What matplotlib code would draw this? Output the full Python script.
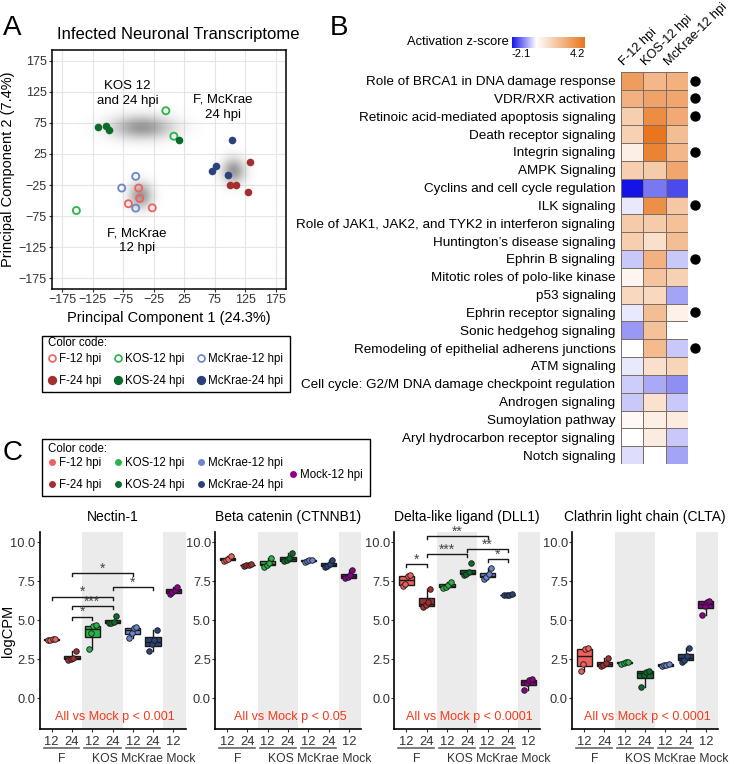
import numpy as np
import matplotlib
matplotlib.use('Agg')
import matplotlib.pyplot as plt
import matplotlib.transforms as mtransforms
from matplotlib.colors import LinearSegmentedColormap, Normalize
from matplotlib.cm import ScalarMappable
from matplotlib.lines import Line2D
from matplotlib.patches import Rectangle

plt.rcParams['font.family'] = ['Liberation Sans', 'DejaVu Sans']

################ data #################
groups = ['F-12 hpi', 'F-24 hpi', 'KOS-12 hpi', 'KOS-24 hpi',
          'McKrae-12 hpi', 'McKrae-24 hpi', 'Mock-12 hpi']
colors = {'F-12 hpi': '#F0605D', 'F-24 hpi': '#A3302E',
          'KOS-12 hpi': '#27B548', 'KOS-24 hpi': '#0B6B2A',
          'McKrae-12 hpi': '#6A87CC', 'McKrae-24 hpi': '#2B437A',
          'Mock-12 hpi': '#8B008B'}

# panel A - PCA scores
pc1 = [-49.5, -47.8, -66.3, -27.2,
       -4.9, 8.2, -151.6,
       -54.3, -77.2, -54.3,
       133.7, 99.5, 110.4, 129.4,
       -116.8, -102.7, -98.4, 16.8,
       102.7, 77.8, 70.0, 97.4]
pc2 = [-29.8, -46.5, -55.0, -61.6,
       94.4, 53.5, -65.9,
       -11.0, -29.8, -62.0,
       12.0, -24.5, -25.5, -36.8,
       68.5, 69.6, 63.0, 47.0,
       48.0, 5.2, -1.9, -9.4]
pca_group = (['F-12 hpi'] * 4 + ['KOS-12 hpi'] * 3 + ['McKrae-12 hpi'] * 3 +
             ['F-24 hpi'] * 4 + ['KOS-24 hpi'] * 4 + ['McKrae-24 hpi'] * 4)
cluster_names = ['KOS 12\nand 24 hpi', 'F, McKrae\n12 hpi', 'F, McKrae\n24 hpi']
cluster_x = [-45, -47, 105]
cluster_y = [68, -42, -2]
cluster_label_x = [-68, -52, 88]
cluster_label_y = [122, -114, 100]

# panel B - IPA activation z-scores
pathways = ['Role of BRCA1 in DNA damage response', 'VDR/RXR activation',
            'Retinoic acid-mediated apoptosis signaling', 'Death receptor signaling',
            'Integrin signaling', 'AMPK Signaling', 'Cyclins and cell cycle regulation',
            'ILK signaling', 'Role of JAK1, JAK2, and TYK2 in interferon signaling',
            'Huntington\u2019s disease signaling', 'Ephrin B signaling',
            'Mitotic roles of polo-like kinase', 'p53 signaling',
            'Ephrin receptor signaling', 'Sonic hedgehog signaling',
            'Remodeling of epithelial adherens junctions', 'ATM signaling',
            'Cell cycle: G2/M DNA damage checkpoint regulation', 'Androgen signaling',
            'Sumoylation pathway', 'Aryl hydrocarbon receptor signaling', 'Notch signaling']
heat_cols = ['F-12 hpi', 'KOS-12 hpi', 'McKrae-12 hpi']
z_f12 = [3.0, 2.4, 1.5, 1.4, 0.5, 1.5, -2.1, -0.2, 1.6, 1.5, -0.5,
         0.3, 1.2, -0.2, -0.9, 0.0, -0.2, -0.45, -0.5, 0.2, 0.0, -0.3]
z_kos12 = [2.2, 2.8, 3.5, 4.2, 3.8, 1.6, -1.2, 3.4, 1.6, 1.0, 2.4,
           1.8, 1.2, 2.0, 1.9, 2.1, 1.0, -0.75, 0.9, 0.5, 0.6, 0.0]
z_mck12 = [2.4, 2.7, 2.6, 2.0, 2.2, 2.7, -1.6, 1.7, 1.9, 2.0, -0.5,
           1.4, -0.8, 0.4, 0.0, -0.5, 1.3, -1.0, -0.5, 0.6, -0.5, -0.8]
flagged = [1, 1, 1, 0, 1, 0, 0, 1, 0, 0, 1, 0, 0, 1, 0, 1, 0, 0, 0, 0, 0, 0]

# panel C - logCPM, replicates per group (F12, F24, KOS12, KOS24, McK12, McK24, Mock)
genes = ['Nectin-1', 'Beta catenin (CTNNB1)', 'Delta-like ligand (DLL1)',
         'Clathrin light chain (CLTA)']
nectin1 = [[3.72, 3.75, 3.78, 3.80], [2.45, 2.5, 2.6, 3.0], [3.13, 4.2, 4.65, 4.67],
           [4.8, 4.85, 4.9, 5.27], [3.87, 4.2, 4.5, 4.57], [3.01, 3.45, 3.75, 4.35],
           [6.7, 6.8, 6.95, 7.15]]
ctnnb1 = [[8.8, 8.9, 8.95, 9.1], [8.5, 8.55, 8.55, 8.6], [8.45, 8.55, 8.7, 9.0],
          [8.8, 8.85, 9.0, 9.3], [8.75, 8.8, 8.85, 8.9], [8.4, 8.5, 8.6, 8.85],
          [7.7, 7.75, 7.9, 8.2]]
dll1 = [[7.2, 7.3, 7.85, 7.9], [5.85, 5.95, 6.2, 7.0], [7.1, 7.15, 7.25, 7.45],
        [7.9, 8.0, 8.1, 8.65], [7.65, 7.8, 7.95, 8.35], [6.6, 6.62, 6.64, 6.66],
        [0.5, 0.95, 1.15, 1.25]]
clta = [[1.75, 2.2, 3.15, 3.2], [2.05, 2.1, 2.25, 2.6], [2.2, 2.25, 2.3, 2.35],
        [0.7, 1.5, 1.7, 1.75], [2.05, 2.1, 2.15, 2.2], [2.35, 2.45, 2.7, 3.2],
        [5.35, 5.9, 6.2, 6.25]]
gene_vals = [nectin1, ctnnb1, dll1, clta]
# brackets: (group a, group b, height, label)
sig_nectin1 = [(2, 5, 8.03, '*'), (4, 6, 7.12, '*'), (1, 4, 6.52, '*'),
               (2, 4, 5.92, '***'), (2, 3, 5.23, '*')]
sig_dll1 = [(2, 5, 10.39, '**'), (4, 6, 9.57, '**'), (2, 4, 9.25, '***'),
            (5, 6, 8.93, '*'), (1, 2, 8.6, '*')]
gene_sig = [sig_nectin1, [], sig_dll1, []]
mock_p = ['All vs Mock p < 0.001', 'All vs Mock p < 0.05',
          'All vs Mock p < 0.0001', 'All vs Mock p < 0.0001']
time_labels = ['12', '24', '12', '24', '12', '24', '12']

W, H = 740, 764
fig = plt.figure(figsize=(W / 100, H / 100), dpi=100)


def fx(px):
    return px / W


def fy(py):
    return 1 - py / H


txt = '#333333'
legfont = 8.3
leg_kw = dict(ncol=3, loc='upper left', fontsize=legfont, frameon=False, borderpad=0,
              handletextpad=0.15, columnspacing=0.9, labelspacing=0.9,
              handlelength=1.0, borderaxespad=0)

################ Panel A #################
fig.text(fx(3), fy(28), 'A', fontsize=20, va='center')
fig.text(fx(178), fy(35), 'Infected Neuronal Transcriptome', fontsize=12,
         ha='center', va='center')
axA = fig.add_axes([fx(51.7), fy(289), fx(286 - 51.7), (289 - 50) / H])
lim = 192
# soft grey clouds behind the clusters
gx, gy = np.meshgrid(np.linspace(-lim, lim, 400), np.linspace(-lim, lim, 400))
field = np.zeros_like(gx)
spread = [(34, 13), (13, 14), (13, 14)]
for (cx, cy), (sx, sy) in zip(zip(cluster_x, cluster_y), spread):
    field = np.maximum(field, np.exp(-((gx - cx) ** 2 / (2 * sx ** 2) + (gy - cy) ** 2 / (2 * sy ** 2))))
img = np.zeros(gx.shape + (4,))
img[..., :3] = 0.35
img[..., 3] = 0.62 * field
axA.imshow(img, extent=[-lim, lim, -lim, lim], origin='lower', aspect='auto', zorder=1)

for g in ['F-12 hpi', 'KOS-12 hpi', 'McKrae-12 hpi', 'F-24 hpi', 'KOS-24 hpi', 'McKrae-24 hpi']:
    xs = [x for x, gg in zip(pc1, pca_group) if gg == g]
    ys = [y for y, gg in zip(pc2, pca_group) if gg == g]
    if '12' in g:
        axA.scatter(xs, ys, s=26, facecolors='none', edgecolors=colors[g], linewidths=1.3, zorder=3)
    else:
        axA.scatter(xs, ys, s=30, color=colors[g], linewidths=0, zorder=3)
for name, lx, ly in zip(cluster_names, cluster_label_x, cluster_label_y):
    axA.text(lx, ly, name, ha='center', va='center', fontsize=9.5, linespacing=1.3, zorder=4)

ticks = np.arange(-175, 176, 50)
axA.set_xlim(-lim, lim)
axA.set_ylim(-lim, lim)
axA.set_xticks(ticks)
axA.set_yticks(ticks)
axA.grid(True, color='#E5E5E5', lw=0.8, zorder=0)
axA.set_axisbelow(True)
axA.tick_params(labelsize=9, colors=txt, length=2, pad=1.5)
axA.tick_params(axis='both', color='#333333')
for s in axA.spines.values():
    s.set_linewidth(1.1)
axA.set_xlabel('Principal Component 1 (24.3%)', fontsize=10.5, labelpad=4)
axA.set_ylabel('Principal Component 2 (7.4%)', fontsize=10.5, labelpad=3)

# legend A
handlesA, labelsA = [], []
for g in ['F-12 hpi', 'F-24 hpi', 'KOS-12 hpi', 'KOS-24 hpi', 'McKrae-12 hpi', 'McKrae-24 hpi']:
    filled = '24' in g
    handlesA.append(Line2D([], [], ls='none', marker='o', ms=5.5 if filled else 5,
                           mfc=colors[g] if filled else 'none', mec=colors[g], mew=1.2))
    labelsA.append(g)
fig.patches.append(Rectangle((fx(42), fy(392)), fx(290 - 42), (392 - 336) / H,
                             transform=fig.transFigure, fill=False, ec='black', lw=1.0))
fig.text(fx(48), fy(343), 'Color code:', fontsize=legfont, va='center')
fig.legend(handlesA, labelsA, bbox_to_anchor=(fx(46), fy(352.6)), **leg_kw)

################ Panel B #################
fig.text(fx(330), fy(28), 'B', fontsize=20, va='center')
cmap = LinearSegmentedColormap.from_list('za', [(0, '#1414E8'), (2.1 / 6.3, '#FFFFFF'), (1, '#E8761E')])
norm = Normalize(-2.1, 4.2)
Z = np.column_stack([z_f12, z_kos12, z_mck12])
axB = fig.add_axes([fx(621), fy(464), fx(688 - 621), (464 - 71.7) / H])
axB.pcolormesh(np.arange(4), np.arange(len(pathways) + 1), Z, cmap=cmap, norm=norm,
               edgecolors='#7D6F66', linewidth=0.7)
axB.set_xlim(0, 3)
axB.set_ylim(len(pathways), 0)
axB.set_xticks([])
axB.set_yticks(np.arange(len(pathways)) + 0.5)
axB.set_yticklabels(pathways, fontsize=9.7)
axB.tick_params(axis='y', length=0, pad=4)
for s in axB.spines.values():
    s.set_visible(False)
rows = [i + 0.5 for i, f in enumerate(flagged) if f]
axB.scatter([3.3] * len(rows), rows, s=42, color='black', clip_on=False)
for j, name in enumerate(heat_cols):
    axB.text(j + 0.22, -0.2, name, rotation=45, rotation_mode='anchor',
             ha='left', va='bottom', fontsize=9.2)

cax = fig.add_axes([fx(512), fy(48), fx(73), 11 / H])
cb = fig.colorbar(ScalarMappable(norm=norm, cmap=cmap), cax=cax, orientation='horizontal',
                  ticks=[-2.1, 4.2])
cb.outline.set_visible(False)
cax.tick_params(length=0, labelsize=8, pad=1)
cax.set_xticklabels(['-2.1', '4.2'])
cax.get_xticklabels()[0].set_ha('left')
cax.get_xticklabels()[1].set_ha('right')
fig.text(fx(509), fy(42), 'Activation z-score', fontsize=9.3, ha='right', va='center')

################ Panel C #################
fig.text(fx(3), fy(453), 'C', fontsize=20, va='center')
fig.patches.append(Rectangle((fx(42), fy(496)), fx(370 - 42), (496 - 439) / H,
                             transform=fig.transFigure, fill=False, ec='black', lw=1.0))
fig.text(fx(48), fy(449), 'Color code:', fontsize=legfont, va='center')
handlesC = [Line2D([], [], ls='none', marker='o', ms=5, mfc=colors[g], mec='none') for g in groups]
fig.legend(handlesC[:6], groups[:6], bbox_to_anchor=(fx(46), fy(456.6)), **leg_kw)
fig.legend(handlesC[6:], groups[6:], loc='center left', bbox_to_anchor=(fx(287), fy(475)),
           fontsize=legfont, frameon=False, borderpad=0, handletextpad=0.15,
           handlelength=1.0, borderaxespad=0)

box_lefts = [39.5, 215, 394.3, 572]
pos = np.arange(1, 8)
jit = np.array([-0.18, -0.06, 0.06, 0.18])
for k in range(4):
    ax = fig.add_axes([fx(box_lefts[k]), fy(729.3), fx(146), (729.3 - 532.3) / H])
    ax.axvspan(2.5, 4.5, color='#EBEBEB', zorder=0, lw=0)
    ax.axvspan(6.5, 7.7, color='#EBEBEB', zorder=0, lw=0)
    bp = ax.boxplot(gene_vals[k], positions=pos, widths=0.75, patch_artist=True,
                    showfliers=False, whis=1.5,
                    boxprops=dict(ec='#1A1A1A', lw=1.0),
                    medianprops=dict(color='#1A1A1A', lw=1.0),
                    whiskerprops=dict(color='#1A1A1A', lw=1.0),
                    capprops=dict(lw=0), zorder=2)
    for patch, g in zip(bp['boxes'], groups):
        patch.set_facecolor(colors[g])
    for i, g in enumerate(groups):
        ax.scatter(pos[i] + jit, gene_vals[k][i], s=16, color=colors[g],
                   edgecolors='#1A1A1A', linewidths=0.6, zorder=3)
    for a, b, h, lab in gene_sig[k]:
        ax.plot([a, a, b, b], [h - 0.2, h, h, h - 0.2], color='#1A1A1A', lw=1.0, clip_on=False)
        ax.text((a + b) / 2, h - 0.15, lab, ha='center', va='bottom', fontsize=10, color='#444444')
    ax.text(4.1, -1.2, mock_p[k], ha='center', va='center', fontsize=9, color='#F8391A')
    ax.set_xlim(0.4, 7.6)
    ax.set_ylim(-2.0, 10.65)
    ax.set_yticks([0, 2.5, 5, 7.5, 10])
    ax.set_yticklabels(['0.0', '2.5', '5.0', '7.5', '10.0'])
    ax.set_xticks(pos)
    ax.set_xticklabels(time_labels)
    ax.tick_params(labelsize=9.3, colors=txt, length=2.5, pad=2)
    ax.tick_params(axis='y', length=2, pad=1)
    ax.tick_params(color='#333333')
    for s in ['top', 'right']:
        ax.spines[s].set_visible(False)
    for s in ['left', 'bottom']:
        ax.spines[s].set_linewidth(1.2)
    ax.set_title(genes[k], fontsize=10, pad=8)
    if k == 0:
        ax.set_ylabel('logCPM', fontsize=10.5)
        ax.yaxis.set_label_coords((15.5 - 39.5) / 146, 0.5)
    tr = mtransforms.blended_transform_factory(ax.transData, ax.transAxes)
    for a, b in [(0.6, 2.35), (2.6, 4.4), (4.65, 6.35)]:
        ax.plot([a, b], [-0.095, -0.095], color='#666666', lw=1.2, transform=tr, clip_on=False)
    ax.text(1.5, -0.15, 'F', transform=tr, ha='center', va='center', fontsize=8.7, color=txt)
    ax.text(3.0, -0.15, 'KOS McKrae Mock', transform=tr, ha='left', va='center',
            fontsize=8.7, color=txt)

fig.savefig('out.png', dpi=100)
